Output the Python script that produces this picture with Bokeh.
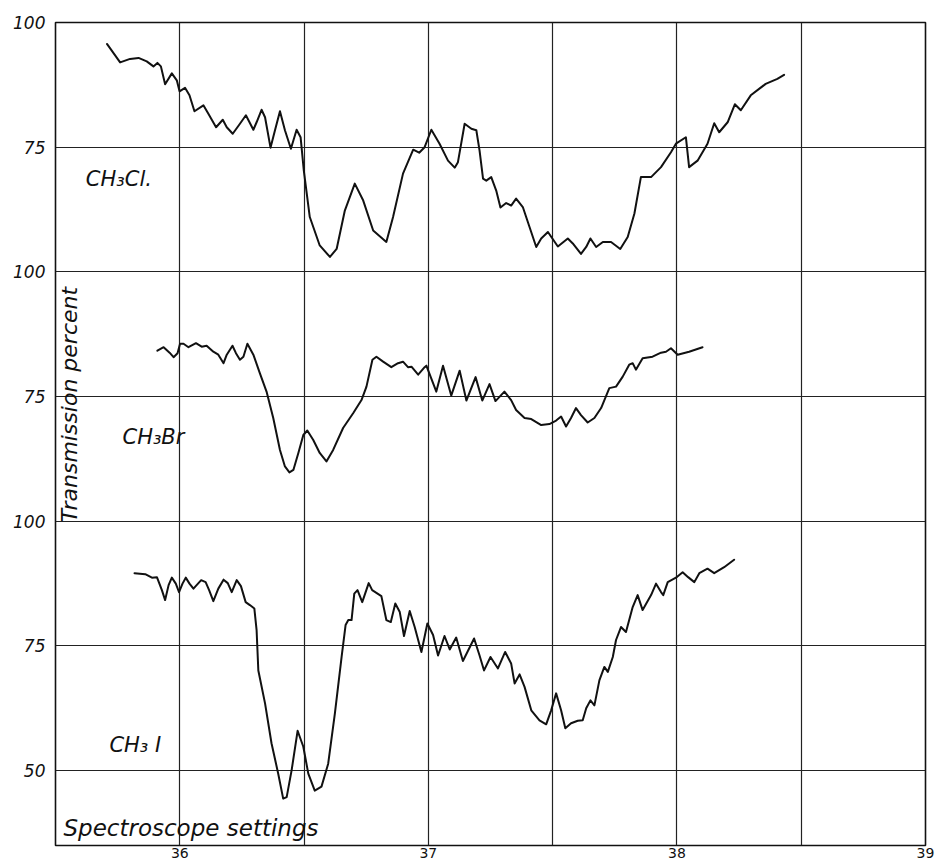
from bokeh.plotting import figure
from bokeh.models import FixedTicker, Label
from bokeh.embed import file_html
from bokeh.resources import INLINE

# ---- data (spectroscope setting, transmission percent) ----
cl_x = [35.707, 35.760, 35.800, 35.834, 35.867, 35.894, 35.910, 35.924, 35.941, 35.968,
        35.988, 35.999, 36.021, 36.039, 36.059, 36.095, 36.115, 36.146, 36.173, 36.189,
        36.213, 36.242, 36.266, 36.296, 36.309, 36.329, 36.343, 36.365, 36.383, 36.403,
        36.423, 36.447, 36.470, 36.486, 36.499, 36.523, 36.563, 36.604, 36.631, 36.664,
        36.704, 36.738, 36.778, 36.831, 36.858, 36.898, 36.939, 36.963, 36.985, 37.012,
        37.045, 37.079, 37.106, 37.119, 37.146, 37.173, 37.193, 37.206, 37.220, 37.233,
        37.253, 37.273, 37.290, 37.313, 37.333, 37.353, 37.380, 37.407, 37.434, 37.454,
        37.481, 37.521, 37.561, 37.581, 37.614, 37.635, 37.652, 37.675, 37.702, 37.735,
        37.772, 37.802, 37.829, 37.855, 37.896, 37.936, 37.976, 37.996, 38.036, 38.049,
        38.083, 38.123, 38.150, 38.170, 38.204, 38.233, 38.257, 38.297, 38.357, 38.404, 38.431]
cl_t = [95.7, 92.0, 92.7, 92.9, 92.2, 91.2, 91.9, 91.2, 87.6, 89.8,
        88.4, 86.2, 86.9, 85.4, 82.2, 83.4, 81.7, 79.0, 80.5, 79.0,
        77.7, 79.7, 81.4, 78.5, 80.0, 82.5, 81.0, 74.9, 78.4, 82.2,
        78.4, 74.7, 78.5, 77.0, 70.3, 61.0, 55.3, 53.0, 54.6, 62.3,
        67.7, 64.3, 58.3, 56.0, 61.0, 69.7, 74.5, 73.9, 75.0, 78.5,
        75.7, 72.3, 70.9, 72.0, 79.7, 78.7, 78.4, 74.3, 68.7, 68.3,
        69.0, 66.3, 62.9, 63.8, 63.3, 64.7, 63.0, 59.0, 55.0, 56.7,
        58.0, 55.1, 56.7, 55.7, 53.6, 55.0, 56.7, 55.0, 56.0, 56.0,
        54.6, 57.0, 61.7, 69.0, 69.0, 71.0, 74.0, 75.7, 77.0, 71.0,
        72.3, 75.7, 79.8, 78.0, 80.0, 83.6, 82.4, 85.4, 87.7, 88.7, 89.5]

br_x = [35.910, 35.935, 35.959, 35.975, 35.991, 36.001, 36.015, 36.035, 36.065, 36.088,
        36.108, 36.135, 36.155, 36.176, 36.189, 36.212, 36.226, 36.242, 36.256, 36.272,
        36.296, 36.322, 36.349, 36.376, 36.403, 36.423, 36.441, 36.457, 36.477, 36.497,
        36.513, 36.537, 36.563, 36.590, 36.617, 36.657, 36.698, 36.731, 36.751, 36.775,
        36.791, 36.818, 36.851, 36.878, 36.898, 36.918, 36.932, 36.959, 36.985, 36.992,
        37.032, 37.059, 37.092, 37.126, 37.153, 37.190, 37.217, 37.246, 37.270, 37.306,
        37.333, 37.353, 37.387, 37.414, 37.454, 37.487, 37.514, 37.534, 37.554, 37.574,
        37.594, 37.614, 37.641, 37.668, 37.695, 37.728, 37.755, 37.782, 37.808, 37.822,
        37.835, 37.862, 37.902, 37.936, 37.956, 37.976, 38.003, 38.049, 38.103]
br_t = [84.2, 84.9, 83.8, 82.9, 83.7, 85.6, 85.6, 84.9, 85.7, 85.0,
        85.2, 84.0, 83.4, 81.7, 83.4, 85.2, 83.7, 82.4, 83.0, 85.6,
        83.4, 79.7, 76.0, 70.7, 64.3, 61.0, 59.8, 60.3, 63.7, 67.3,
        68.2, 66.3, 63.7, 62.0, 64.3, 68.7, 71.7, 74.3, 77.0, 82.4,
        83.0, 82.0, 80.9, 81.7, 82.0, 80.9, 81.0, 79.4, 80.9, 81.2,
        76.0, 81.2, 75.2, 80.2, 74.2, 78.9, 74.2, 77.5, 74.1, 76.0,
        74.3, 72.3, 70.7, 70.5, 69.3, 69.5, 70.2, 71.0, 69.0, 70.7,
        72.7, 71.3, 69.8, 70.7, 72.7, 76.7, 77.0, 79.0, 81.4, 81.7,
        80.4, 82.7, 83.0, 83.8, 84.0, 84.7, 83.4, 84.0, 84.9]

i_x = [35.818, 35.861, 35.888, 35.908, 35.928, 35.941, 35.955, 35.968, 35.984, 35.997,
       36.011, 36.024, 36.039, 36.055, 36.086, 36.104, 36.118, 36.135, 36.155, 36.176,
       36.193, 36.209, 36.229, 36.246, 36.265, 36.282, 36.300, 36.309, 36.316, 36.343,
       36.369, 36.396, 36.416, 36.430, 36.450, 36.474, 36.497, 36.517, 36.543, 36.570,
       36.597, 36.624, 36.651, 36.667, 36.678, 36.691, 36.702, 36.715, 36.734, 36.760,
       36.774, 36.811, 36.831, 36.849, 36.867, 36.885, 36.902, 36.925, 36.945, 36.972,
       36.996, 37.019, 37.039, 37.065, 37.086, 37.112, 37.139, 37.184, 37.206, 37.224,
       37.250, 37.280, 37.309, 37.333, 37.347, 37.367, 37.387, 37.414, 37.447, 37.474,
       37.494, 37.514, 37.534, 37.551, 37.574, 37.601, 37.621, 37.635, 37.652, 37.668,
       37.688, 37.708, 37.722, 37.742, 37.755, 37.775, 37.795, 37.822, 37.842, 37.862,
       37.896, 37.916, 37.936, 37.945, 37.963, 37.996, 38.023, 38.045, 38.070, 38.090,
       38.123, 38.150, 38.190, 38.230]
i_t = [89.6, 89.4, 88.7, 88.8, 86.2, 84.2, 87.2, 88.7, 87.5, 85.8,
       87.5, 88.7, 87.5, 86.5, 88.2, 87.8, 86.2, 84.0, 86.5, 88.3,
       87.6, 85.8, 88.2, 87.0, 83.8, 83.2, 82.5, 78.2, 70.1, 63.5,
       55.5, 49.4, 44.4, 44.7, 50.1, 58.0, 54.8, 49.4, 46.0, 46.8,
       51.4, 61.5, 72.8, 79.2, 80.2, 80.2, 85.5, 86.2, 83.8, 87.6,
       86.2, 85.0, 80.2, 79.8, 83.5, 81.8, 77.0, 82.0, 78.8, 73.8,
       79.5, 77.2, 73.1, 77.0, 74.3, 76.7, 72.0, 76.5, 73.1, 70.1,
       72.8, 70.5, 73.8, 71.5, 67.5, 69.3, 66.8, 62.1, 60.1, 59.3,
       62.1, 65.5, 62.1, 58.5, 59.5, 60.0, 60.1, 62.5, 64.1, 63.1,
       68.1, 70.8, 69.8, 72.8, 76.2, 78.8, 77.8, 82.8, 85.2, 82.2,
       85.2, 87.5, 85.8, 85.2, 87.8, 88.7, 89.8, 88.8, 87.8, 89.6,
       90.5, 89.6, 90.8, 92.3]

series_names = ["CH\u2083Cl.", "CH\u2083Br", "CH\u2083 I"]
panel_offsets = [100, 50, 0]   # stacked panels share one vertical scale

x_tick_values = [36, 37, 38, 39]
x_grid_values = [36, 36.5, 37, 37.5, 38, 38.5]
y_tick_values = [50, 75, 100, 125, 150, 175, 200]
y_tick_labels = ["50", "75", "100", "75", "100", "75", "100"]

FONT = "DejaVu Sans"
INK = "#111111"

p = figure(width=935, height=861, output_backend="svg", toolbar_location=None,
           x_range=(35.5, 39.0), y_range=(35.0, 200.0),
           min_border_left=55, min_border_right=10, min_border_top=22, min_border_bottom=16)
p.background_fill_color = "white"
p.border_fill_color = "white"
p.outline_line_color = INK
p.outline_line_width = 1.6

# grid
p.xgrid.ticker = FixedTicker(ticks=x_grid_values)
p.ygrid.ticker = FixedTicker(ticks=y_tick_values[:-1])
for g in (p.xgrid, p.ygrid):
    g.grid_line_color = "#222222"
    g.grid_line_width = 1.2
    g.grid_line_alpha = 1.0

# axes
p.xaxis.ticker = FixedTicker(ticks=x_tick_values)
p.yaxis.ticker = FixedTicker(ticks=y_tick_values)
p.yaxis.major_label_overrides = {v: s for v, s in zip(y_tick_values, y_tick_labels)}
for ax in (p.xaxis, p.yaxis):
    ax.axis_line_color = None
    ax.major_tick_line_color = None
    ax.minor_tick_line_color = None
    ax.major_tick_out = 0
    ax.major_tick_in = 0
    ax.major_label_text_font = FONT
    ax.major_label_text_color = INK
p.yaxis.major_label_text_font_style = "italic"
p.yaxis.major_label_text_font_size = "17px"
p.yaxis.major_label_standoff = 10
p.xaxis.major_label_text_font_size = "14px"
p.xaxis.major_label_standoff = 2

# curves
for xs, ts, off in zip([cl_x, br_x, i_x], [cl_t, br_t, i_t], panel_offsets):
    p.line(xs, [t + off for t in ts], line_color=INK, line_width=2.0, line_join="round", line_cap="round")

# labels
def add_label(x, y, text, size, align="center", baseline="middle", angle=0.0):
    p.add_layout(Label(x=x, y=y, text=text, text_font=FONT, text_font_style="italic",
                       text_font_size=size, text_color=INK, text_align=align,
                       text_baseline=baseline, angle=angle))

add_label(35.755, 168.7, series_names[0], "21px")
add_label(35.894, 116.8, series_names[1], "21px")
add_label(35.821, 55.1, series_names[2], "21px")
add_label(35.532, 38.6, "Spectroscope  settings", "23px", align="left", baseline="middle")
add_label(35.558, 123.4, "Transmission percent", "22px", angle=1.5708)

open("out.html", "w").write(file_html(p, INLINE))
